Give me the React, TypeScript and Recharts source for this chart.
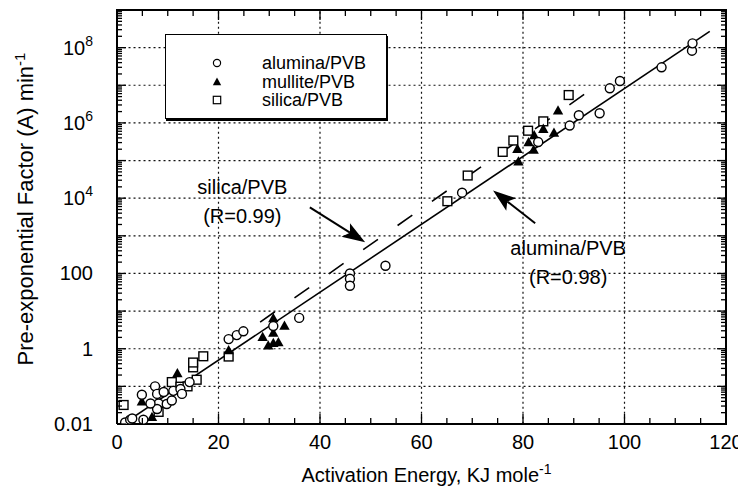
import React from 'react';
import {
  ScatterChart,
  Scatter,
  XAxis,
  YAxis,
  ReferenceLine,
  ReferenceDot,
  Legend,
} from 'recharts';

const FONT = '"Liberation Sans", Arial, Helvetica, sans-serif';

// activation energy (kJ/mol) vs pre-exponential factor A (1/min)
const alumina = [
  { x: 1.6, y: 0.011 }, { x: 2.6, y: 0.013 }, { x: 3.0, y: 0.014 }, { x: 5.2, y: 0.013 },
  { x: 4.9, y: 0.06 }, { x: 7.5, y: 0.1 }, { x: 7.9, y: 0.063 }, { x: 8.2, y: 0.035 },
  { x: 7.9, y: 0.025 }, { x: 9.2, y: 0.071 }, { x: 9.8, y: 0.034 }, { x: 10.8, y: 0.042 },
  { x: 11.1, y: 0.076 }, { x: 12.5, y: 0.085 }, { x: 12.8, y: 0.063 }, { x: 14.3, y: 0.13 },
  { x: 6.6, y: 0.035 }, { x: 22.0, y: 1.8 }, { x: 23.6, y: 2.3 }, { x: 24.9, y: 2.9 },
  { x: 30.8, y: 4.0 }, { x: 35.9, y: 6.6 }, { x: 45.9, y: 100 }, { x: 45.9, y: 72 },
  { x: 45.9, y: 47 }, { x: 52.9, y: 160 }, { x: 68.0, y: 1.4e4 }, { x: 83.0, y: 3.1e5 },
  { x: 89.2, y: 8.5e5 }, { x: 91.0, y: 1.6e6 }, { x: 95.1, y: 1.8e6 }, { x: 97.1, y: 8.3e6 },
  { x: 99.1, y: 1.3e7 }, { x: 107.3, y: 3.0e7 }, { x: 113.3, y: 8.3e7 }, { x: 113.4, y: 1.3e8 },
];

const mullite = [
  { x: 4.9, y: 0.039 }, { x: 6.9, y: 0.015 }, { x: 11.9, y: 0.22 }, { x: 22.0, y: 0.89 },
  { x: 28.7, y: 2.0 }, { x: 29.8, y: 1.2 }, { x: 30.8, y: 1.4 }, { x: 31.8, y: 1.45 },
  { x: 30.8, y: 2.6 }, { x: 30.8, y: 6.3 }, { x: 33.0, y: 4.0 }, { x: 78.9, y: 2.0e5 },
  { x: 79.1, y: 9.3e4 }, { x: 81.1, y: 3.0e5 }, { x: 82.1, y: 1.9e5 }, { x: 82.2, y: 4.6e5 },
  { x: 84.0, y: 6.8e5 }, { x: 86.1, y: 5.4e5 }, { x: 86.9, y: 2.1e6 },
];

const silica = [
  { x: 1.3, y: 0.032 }, { x: 8.2, y: 0.021 }, { x: 10.8, y: 0.13 }, { x: 12.5, y: 0.098 },
  { x: 13.9, y: 0.1 }, { x: 15.7, y: 0.15 }, { x: 15.0, y: 0.32 }, { x: 15.0, y: 0.43 },
  { x: 17.0, y: 0.63 }, { x: 22.0, y: 0.62 }, { x: 65.1, y: 8.3e3 }, { x: 69.1, y: 4.0e4 },
  { x: 76.0, y: 1.7e5 }, { x: 78.1, y: 3.4e5 }, { x: 81.0, y: 6.2e5 }, { x: 84.0, y: 1.1e6 },
  { x: 89.0, y: 5.5e6 },
];

// regression line end points
const aluminaFit = [{ x: 1.3, y: 0.0102 }, { x: 116.8, y: 2.7e8 }];
const silicaFit = [{ x: 28.2, y: 5.1 }, { x: 92.2, y: 5.9e6 }];

const X_MIN = 0;
const X_MAX = 120;
const Y_MIN = 0.01;
const Y_MAX = 1e9;
// grid segments have to stay strictly inside the plot
const X_LO = 0.3;
const X_HI = 119.9;
const Y_LO = 0.0102;
const Y_HI = 9.6e8;

// chart layout; the plot box size follows from it
const CHART_W = 738;
const CHART_H = 480;
const MARGIN = { top: 2, right: 20, bottom: 0, left: 0 };
const Y_AXIS_W = 109;
const X_AXIS_H = 64;
const PLOT_W = CHART_W - MARGIN.left - MARGIN.right - Y_AXIS_W;
const PLOT_H = CHART_H - MARGIN.top - MARGIN.bottom - X_AXIS_H;

const xTicks = [0, 5, 10, 15, 20, 25, 30, 35, 40, 45, 50, 55, 60, 65, 70, 75, 80, 85, 90, 95, 100, 105, 110, 115, 120];
const xLabelTicks = [0, 20, 40, 60, 80, 100, 120];
const xGrid = [20, 40, 60, 80, 100];

const decades = [0.01, 0.1, 1, 10, 100, 1e3, 1e4, 1e5, 1e6, 1e7, 1e8, 1e9];
const yGrid = [0.1, 1, 10, 100, 1e3, 1e4, 1e5, 1e6, 1e7, 1e8];
const minorSteps = [2, 3, 4, 5, 6, 7, 8, 9];
const yLabelTicks = [0.01, 1, 100, 1e4, 1e6, 1e8];
const yTicks = decades.flatMap((d, i) =>
  i < decades.length - 1 ? [d, ...minorSteps.map((k) => d * k)] : [d]
);

const legendItems = [
  { label: 'alumina/PVB', kind: 'circle' },
  { label: 'mullite/PVB', kind: 'triangle' },
  { label: 'silica/PVB', kind: 'square' },
];

const isDecade = (v: number) => Math.abs(Math.log10(v) - Math.round(Math.log10(v))) < 1e-6;
const near = (list: number[], v: number) => list.some((t) => Math.abs(t - v) <= 1e-6 * Math.max(1, Math.abs(t)));

function CircleDot(p: any) {
  return <circle cx={p.cx} cy={p.cy} r={4.5} fill="#fff" stroke="#000" strokeWidth={1.4} />;
}
function TriDot(p: any) {
  const { cx, cy } = p;
  return <polygon points={`${cx},${cy - 5.6} ${cx - 5.2},${cy + 3.7} ${cx + 5.2},${cy + 3.7}`} fill="#000" />;
}
function SquareDot(p: any) {
  return <rect x={p.cx - 4.4} y={p.cy - 4.4} width={8.8} height={8.8} fill="#fff" stroke="#000" strokeWidth={1.4} />;
}
const noDot = () => <g />;

// left tick: mark on the left edge, mirrored mark on the right edge, label,
// and the top frame edge drawn from the top-most tick
function LeftTick({ x, y, payload }: any) {
  const v = payload.value;
  const len = isDecade(v) ? 9 : 5;
  const xr = x + PLOT_W;
  let label = null;
  if (near(yLabelTicks, v)) {
    const exp = Math.round(Math.log10(v));
    label =
      v < 1e4 ? (
        <text x={x - 24} y={y + 7} textAnchor="end" fontSize={20} fontFamily={FONT} fill="#000">
          {String(v)}
        </text>
      ) : (
        <text x={x - 24} y={y + 7} textAnchor="end" fontSize={20} fontFamily={FONT} fill="#000">
          10
          <tspan dy={-9} fontSize={14}>{exp}</tspan>
        </text>
      );
  }
  const top = Math.abs(v - Y_MAX) < 1;
  return (
    <g>
      <line x1={x} y1={y} x2={x + len} y2={y} stroke="#000" strokeWidth={1.3} />
      <line x1={xr} y1={y} x2={xr - len} y2={y} stroke="#000" strokeWidth={1.3} />
      {top && <line x1={x - 1} y1={y} x2={xr + 1} y2={y} stroke="#000" strokeWidth={2} />}
      {label}
    </g>
  );
}

// bottom tick: mark on the bottom edge, mirrored mark on the top edge, label,
// and the right frame edge drawn from the right-most tick
function BottomTick({ x, y, payload }: any) {
  const v = payload.value;
  const major = near(xLabelTicks, v);
  const len = major ? 10 : 6;
  const yt = y - PLOT_H;
  const right = v === X_MAX;
  return (
    <g>
      <line x1={x} y1={y} x2={x} y2={y - len} stroke="#000" strokeWidth={1.3} />
      <line x1={x} y1={yt} x2={x} y2={yt + len} stroke="#000" strokeWidth={1.3} />
      {right && <line x1={x} y1={yt - 1} x2={x} y2={y + 1} stroke="#000" strokeWidth={2} />}
      {major && (
        <text x={x} y={y + 25} textAnchor="middle" fontSize={20} fontFamily={FONT} fill="#000">
          {v}
        </text>
      )}
    </g>
  );
}

// plain dotted line shape for grid segments
function lineShape(stroke: string, width: number, dash?: string) {
  return (p: any) => (
    <line x1={p.x1} y1={p.y1} x2={p.x2} y2={p.y2} stroke={stroke} strokeWidth={width} strokeDasharray={dash} />
  );
}

function XTitle({ viewBox }: any) {
  const cx = viewBox.x + viewBox.width / 2 + 5;
  return (
    <text x={cx} y={viewBox.y + 58} textAnchor="middle" fontSize={20} fontFamily={FONT} fill="#000">
      Activation Energy, KJ mole
      <tspan dy={-8} fontSize={14}>-1</tspan>
    </text>
  );
}

function YTitle({ viewBox }: any) {
  const cx = viewBox.x + 25;
  const cy = viewBox.y + viewBox.height / 2 - 8;
  return (
    <text
      x={cx}
      y={cy}
      transform={`rotate(-90 ${cx} ${cy})`}
      textAnchor="middle"
      fontSize={22}
      fontFamily={FONT}
      fill="#000"
    >
      Pre-exponential Factor (A) min
      <tspan dy={-8} fontSize={15}>-1</tspan>
    </text>
  );
}

function Arrow(p: any) {
  const { x1, y1, x2, y2 } = p;
  const dx = x2 - x1;
  const dy = y2 - y1;
  const len = Math.hypot(dx, dy) || 1;
  const ux = dx / len;
  const uy = dy / len;
  const hl = 23;
  const hw = 8;
  const bx = x2 - ux * hl;
  const by = y2 - uy * hl;
  const nx = x2 - ux * (hl - 5);
  const ny = y2 - uy * (hl - 5);
  return (
    <g>
      <line x1={x1} y1={y1} x2={nx} y2={ny} stroke="#000" strokeWidth={2} />
      <polygon
        points={`${x2},${y2} ${bx - uy * hw},${by + ux * hw} ${nx},${ny} ${bx + uy * hw},${by - ux * hw}`}
        fill="#000"
      />
    </g>
  );
}

function textShape(label: string) {
  return (p: any) => (
    <text x={p.cx} y={p.cy + 7} textAnchor="middle" fontSize={20} fontFamily={FONT} fill="#000">
      {label}
    </text>
  );
}

function LegendBox() {
  return (
    <div
      style={{
        width: 222,
        height: 85,
        border: '1.5px solid #000',
        boxShadow: '1px 2px 0 #000',
        background: '#fff',
        boxSizing: 'border-box',
        position: 'relative',
        fontFamily: FONT,
        fontSize: 18,
        color: '#000',
      }}
    >
      {legendItems.map((it, i) => (
        <div
          key={it.label}
          style={{ position: 'absolute', left: 0, top: 18 + i * 18.5, height: 20, display: 'flex', alignItems: 'center' }}
        >
          <svg width={96} height={20}>
            {it.kind === 'circle' && <circle cx={51} cy={10} r={3.6} fill="#fff" stroke="#000" strokeWidth={1.2} />}
            {it.kind === 'triangle' && <polygon points="51,5.5 46.8,13.2 55.2,13.2" fill="#000" />}
            {it.kind === 'square' && <rect x={47.3} y={6.3} width={7.4} height={7.4} fill="#fff" stroke="#000" strokeWidth={1.2} />}
          </svg>
          <span style={{ lineHeight: '20px' }}>{it.label}</span>
        </div>
      ))}
    </div>
  );
}

const gridShape = lineShape('#111', 1.2, '2 3');

export default function App() {
  return (
    <div style={{ width: CHART_W, height: CHART_H, background: '#fff' }}>
      <ScatterChart width={CHART_W} height={CHART_H} margin={MARGIN}>
        <XAxis
          dataKey="x"
          type="number"
          domain={[X_MIN, X_MAX]}
          ticks={xTicks}
          interval={0}
          height={X_AXIS_H}
          tickSize={0}
          tickMargin={0}
          tickLine={false}
          tick={<BottomTick />}
          axisLine={{ stroke: '#000', strokeWidth: 2 }}
          allowDataOverflow
          label={<XTitle />}
        />
        <YAxis
          dataKey="y"
          type="number"
          scale="log"
          domain={[Y_MIN, Y_MAX]}
          ticks={yTicks}
          interval={0}
          width={Y_AXIS_W}
          tickSize={0}
          tickMargin={0}
          tickLine={false}
          tick={<LeftTick />}
          axisLine={{ stroke: '#000', strokeWidth: 2 }}
          allowDataOverflow
          label={<YTitle />}
        />
        {yGrid.map((v) => (
          <ReferenceLine
            key={`gy${v}`}
            segment={[{ x: X_LO, y: v }, { x: X_HI, y: v }]}
            ifOverflow="visible"
            shape={gridShape}
          />
        ))}
        {xGrid.map((v) => (
          <ReferenceLine
            key={`gx${v}`}
            segment={[{ x: v, y: Y_LO }, { x: v, y: Y_HI }]}
            ifOverflow="visible"
            shape={gridShape}
          />
        ))}
        <Legend
          layout="vertical"
          align="center"
          verticalAlign="middle"
          wrapperStyle={{ left: 157, top: 26, width: 222, height: 85 }}
          content={<LegendBox />}
        />
        <Scatter
          data={aluminaFit}
          line={{ stroke: '#000', strokeWidth: 1.6 }}
          shape={noDot}
          legendType="none"
          isAnimationActive={false}
        />
        <Scatter
          data={silicaFit}
          line={{ stroke: '#000', strokeWidth: 1.6, strokeDasharray: '18 24' }}
          shape={noDot}
          legendType="none"
          isAnimationActive={false}
        />
        <Scatter name="silica/PVB" data={silica} shape={SquareDot} isAnimationActive={false} />
        <Scatter name="mullite/PVB" data={mullite} shape={TriDot} isAnimationActive={false} />
        <Scatter name="alumina/PVB" data={alumina} shape={CircleDot} isAnimationActive={false} />
        <ReferenceLine segment={[{ x: 38.0, y: 5700 }, { x: 48.9, y: 673 }]} shape={Arrow} ifOverflow="visible" />
        <ReferenceLine segment={[{ x: 82.4, y: 2150 }, { x: 74.1, y: 16100 }]} shape={Arrow} ifOverflow="visible" />
        <ReferenceDot x={24.7} y={19300} shape={textShape('silica/PVB')} ifOverflow="visible" />
        <ReferenceDot x={24.7} y={3300} shape={textShape('(R=0.99)')} ifOverflow="visible" />
        <ReferenceDot x={88.9} y={466} shape={textShape('alumina/PVB')} ifOverflow="visible" />
        <ReferenceDot x={88.9} y={80} shape={textShape('(R=0.98)')} ifOverflow="visible" />
      </ScatterChart>
    </div>
  );
}
